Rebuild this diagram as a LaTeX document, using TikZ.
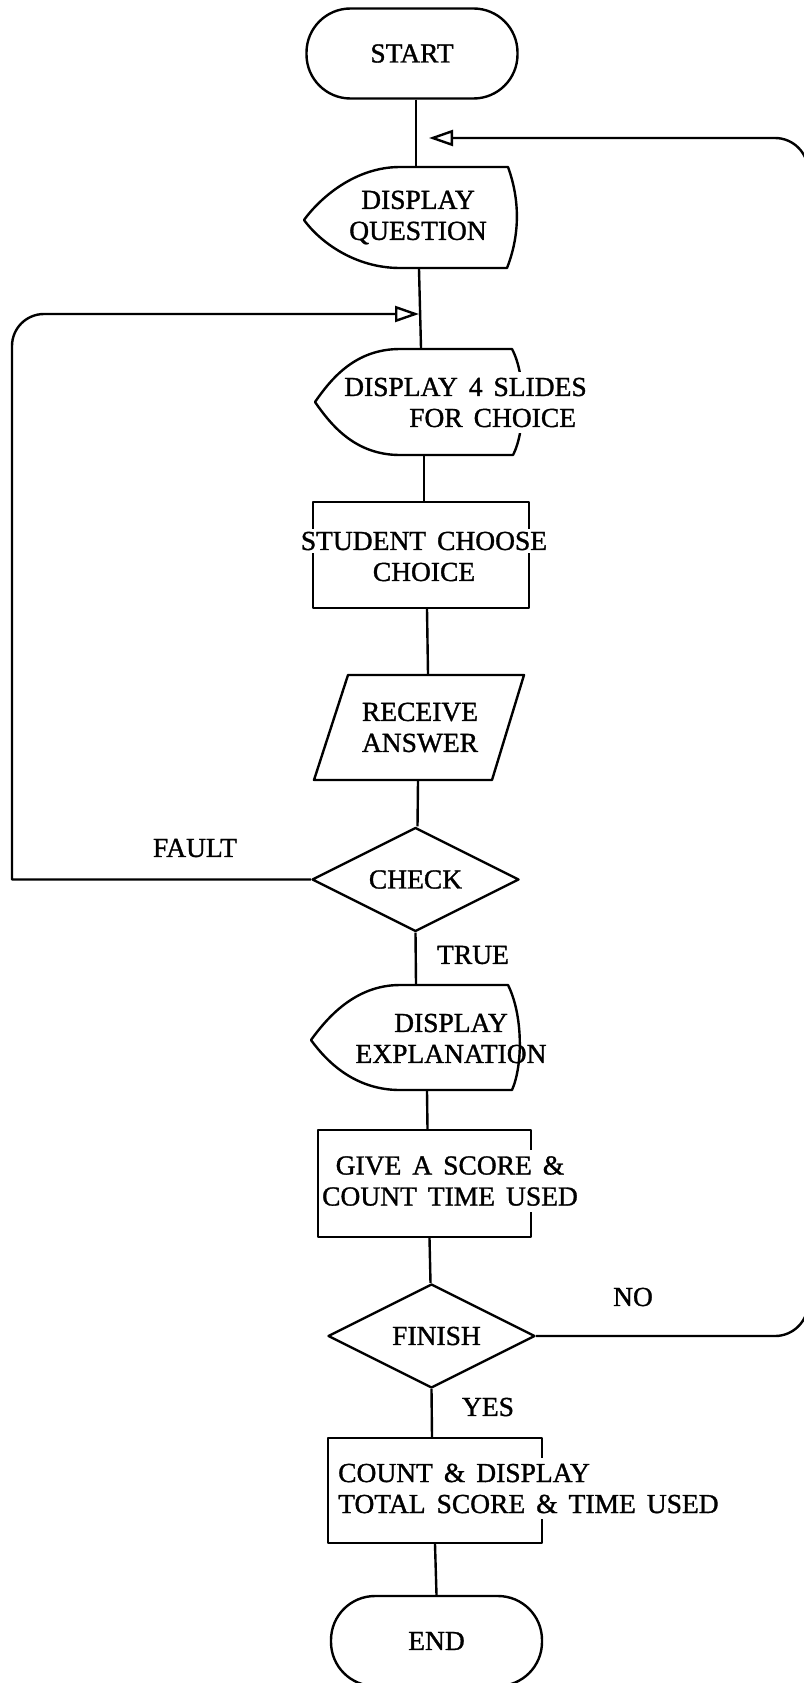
\documentclass[tikz,border=0pt]{standalone}
\usepackage{fontspec}
\setmainfont{Liberation Serif}[WordSpace=1.6, FakeBold=1.2]
\usetikzlibrary{shapes.geometric,arrows.meta,calc}
\setlength{\fboxsep}{3pt}
\begin{document}
\begin{tikzpicture}[x=1pt,y=-1pt,
  line width=2.4pt, line join=round,
  every node/.style={font=\fontsize{27.5}{31}\selectfont, inner sep=0pt},
  terminal/.style={draw, rectangle, rounded corners=44pt, minimum width=211pt, minimum height=90pt},
  procbox/.style={draw, rectangle, minimum width=#1, minimum height=106pt},
  decision/.style={draw, diamond, aspect=2, minimum width=207pt, minimum height=104pt},
  anchorbox/.style={minimum height=#1},
  coverwhite/.style={fill=white, inner xsep=0pt, inner ysep=6pt},
  openhead/.style={-{Triangle[open, length=24pt, width=16pt]}}
]
\path[use as bounding box, fill=white] (0,0) rectangle (803,1683);

% ---- nodes of the flow ----
\node[terminal] (start) at (412,53.5) {START};
\node[anchorbox=101pt, align=center] (dq) at (418,217.5) {DISPLAY\\QUESTION};
\node[anchorbox=106pt] (d4s) at (424,402) {};
\node[procbox=216pt] (stu) at (421,555) {};
\node[anchorbox=105pt, align=center] (recv) at (420,727.5) {RECEIVE\\ANSWER};
\node[decision] (check) at (415.5,879.5) {CHECK};
\node[anchorbox=105pt] (dexp) at (416,1037.5) {};
\node[procbox=213pt, minimum height=107pt] (give) at (424.5,1183.5) {};
\node[decision] (finish) at (431.5,1336) {\hspace*{10pt}FINISH};
\node[procbox=214pt, minimum height=105pt] (count) at (435,1490.5) {};
\node[terminal] (end) at (436.5,1641) {END};

% ---- display outlines ----
\begin{scope}[shift={(dq.center)}]
  \draw (-114,2.5) .. controls (-98,-19.5) and (-63,-50.5) .. (-18,-50.5) -- (90,-50.5)
        .. controls (102,-17.5) and (102,17.5) .. (89,50.5) -- (-18,50.5)
        .. controls (-63,50.5) and (-98,24.5) .. (-114,2.5) -- cycle;
\end{scope}
\begin{scope}[shift={(d4s.center)}]
  \draw (-109,0) .. controls (-93,-23) and (-69,-53) .. (-24,-53) -- (88,-53)
        .. controls (102,-27) and (102,28) .. (89,53) -- (-24,53)
        .. controls (-69,53) and (-93,23) .. (-109,0) -- cycle;
\end{scope}
\begin{scope}[shift={(dexp.center)}]
  \draw (-105,2.5) .. controls (-89,-19.5) and (-61,-52.5) .. (-16,-52.5) -- (92,-52.5)
        .. controls (107,-22.5) and (107,27.5) .. (96,52.5) -- (-16,52.5)
        .. controls (-61,52.5) and (-89,24.5) .. (-105,2.5) -- cycle;
\end{scope}
% ---- input parallelogram ----
\begin{scope}[shift={(recv.center)}]
  \draw (-72,-52.5) -- (104,-52.5) -- (72,52.5) -- (-106,52.5) -- cycle;
\end{scope}

% ---- texts set over the outlines ----
\node[coverwhite, align=left, anchor=west] (d4stext) at (343,402.5)
  {DISPLAY 4 SLIDES\\\hspace*{65pt}FOR CHOICE};
\node[align=center] (stutext) at (424,555) {\colorbox{white}{STUDENT CHOOSE}\\CHOICE};
\node[align=center] (dexptext) at (451,1038.5) {DISPLAY\\EXPLANATION};
\node[coverwhite, align=center] (givetext) at (450,1181) {GIVE A SCORE \&\\COUNT TIME USED};
\node[coverwhite, align=left, anchor=west] (counttext) at (337,1488.5)
  {COUNT \& DISPLAY\\TOTAL SCORE \& TIME USED};

% ---- branch labels ----
\node (fault) at (195,848) {FAULT};
\node (truelbl) at (473,955) {TRUE};
\node (nolbl) at (633,1297) {NO};
\node (yeslbl) at (488,1407) {YES};

% ---- main flow ----
\draw ([xshift=4pt]start.south) -- ([xshift=-2pt]dq.north);
\draw ([xshift=1pt]dq.south) -- ([xshift=-3pt]d4s.north);
\draw (d4s.south) -- ([xshift=3pt]stu.north);
\draw ([xshift=6pt]stu.south) -- ([xshift=8pt]recv.north);
\draw ([xshift=-2pt]recv.south) -- ([xshift=2pt]check.north);
\draw (check.south) -- (dexp.north);
\draw ([xshift=11pt]dexp.south) -- ([xshift=3pt]give.north);
\draw ([xshift=5pt]give.south) -- ([xshift=-1pt]finish.north);
\draw (finish.south) -- ([xshift=-3pt]count.north);
\draw (count.south) -- (end.north);

% ---- loops back ----
\coordinate (ttip) at (429,138);
\coordinate (ltip) at (419,314);
\coordinate (rx) at (808,0);
\coordinate (lx) at (12,0);
\draw[openhead, rounded corners=33pt] (finish.east) -- (finish.east -| rx) -- (rx |- ttip) -- (ttip);
\draw[openhead] (check.west) -- (check.west -| lx) -- ($(lx |- ltip)+(0,40)$)
  [rounded corners=32pt] -- (lx |- ltip) -- (ltip);
\end{tikzpicture}
\end{document}
